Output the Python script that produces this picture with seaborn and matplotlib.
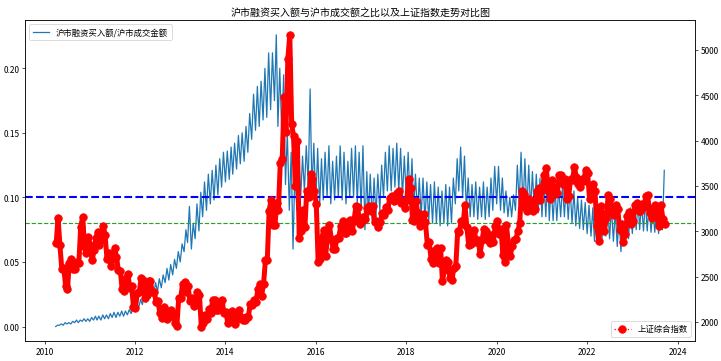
import pandas as pd
import matplotlib
matplotlib.use('Agg')
import matplotlib.pyplot as plt
import seaborn as sns

plt.rcParams['font.family'] = ['Noto Sans CJK SC', 'DejaVu Sans']
plt.rcParams['axes.unicode_minus'] = False

# monthly dates, Apr 2010 - Sep 2023
months = pd.date_range('2010-04-01', periods=162, freq='MS')

# ratio of margin buying to turnover (SSE): monthly low / high
ratio_lo = [
    0.000, 0.001, 0.001, 0.002, 0.002, 0.003, 0.003, 0.004, 0.004,
    0.004, 0.005, 0.005, 0.005, 0.006, 0.006, 0.007, 0.007, 0.008, 0.008, 0.009, 0.010,
    0.012, 0.015, 0.017, 0.019, 0.022, 0.025, 0.027, 0.030, 0.034, 0.036, 0.040, 0.045,
    0.050, 0.058, 0.065, 0.060, 0.068, 0.074, 0.085, 0.090, 0.095, 0.098, 0.102, 0.108,
    0.112, 0.114, 0.118, 0.122, 0.126, 0.128, 0.135, 0.145, 0.152, 0.155, 0.160, 0.162,
    0.168, 0.175, 0.155, 0.150, 0.110, 0.090, 0.060, 0.090, 0.100, 0.105, 0.110, 0.105,
    0.095, 0.093, 0.098, 0.100, 0.095, 0.098, 0.100, 0.098, 0.095, 0.100, 0.100, 0.095,
    0.090, 0.075, 0.085, 0.082, 0.085, 0.090, 0.100, 0.105, 0.105, 0.108, 0.105, 0.100,
    0.100, 0.095, 0.090, 0.088, 0.085, 0.082, 0.082, 0.080, 0.080, 0.078, 0.080, 0.078,
    0.080, 0.095, 0.105, 0.100, 0.090, 0.085, 0.085, 0.083, 0.085, 0.083, 0.085, 0.090,
    0.095, 0.090, 0.088, 0.085, 0.085, 0.090, 0.095, 0.092, 0.090, 0.090, 0.088, 0.088,
    0.085, 0.085, 0.082, 0.082, 0.082, 0.085, 0.085, 0.083, 0.080, 0.078, 0.076, 0.075,
    0.072, 0.070, 0.066, 0.065, 0.068, 0.070, 0.068, 0.066, 0.062, 0.058, 0.065, 0.068,
    0.072, 0.075, 0.075, 0.074, 0.074, 0.073, 0.073, 0.072, 0.075,
]
ratio_hi = [
    0.001, 0.002, 0.003, 0.003, 0.004, 0.005, 0.005, 0.006, 0.006,
    0.007, 0.008, 0.008, 0.009, 0.009, 0.010, 0.011, 0.011, 0.012, 0.012, 0.013, 0.014,
    0.017, 0.021, 0.024, 0.027, 0.030, 0.034, 0.037, 0.040, 0.045, 0.048, 0.052, 0.058,
    0.064, 0.075, 0.093, 0.080, 0.095, 0.104, 0.112, 0.118, 0.121, 0.125, 0.130, 0.135,
    0.136, 0.139, 0.142, 0.148, 0.150, 0.155, 0.165, 0.180, 0.186, 0.190, 0.200, 0.212,
    0.212, 0.226, 0.200, 0.195, 0.150, 0.135, 0.120, 0.130, 0.132, 0.140, 0.184, 0.142,
    0.138, 0.130, 0.135, 0.140, 0.128, 0.132, 0.140, 0.135, 0.128, 0.138, 0.140, 0.135,
    0.140, 0.120, 0.118, 0.115, 0.118, 0.125, 0.135, 0.140, 0.138, 0.142, 0.138, 0.132,
    0.135, 0.130, 0.118, 0.115, 0.115, 0.112, 0.110, 0.112, 0.108, 0.105, 0.110, 0.108,
    0.115, 0.130, 0.139, 0.132, 0.115, 0.110, 0.112, 0.108, 0.112, 0.108, 0.115, 0.124,
    0.124, 0.115, 0.105, 0.100, 0.102, 0.125, 0.135, 0.130, 0.125, 0.120, 0.118, 0.115,
    0.115, 0.118, 0.110, 0.108, 0.108, 0.110, 0.110, 0.108, 0.105, 0.100, 0.098, 0.096,
    0.094, 0.092, 0.088, 0.085, 0.088, 0.093, 0.092, 0.090, 0.085, 0.082, 0.090, 0.092,
    0.095, 0.098, 0.096, 0.098, 0.095, 0.092, 0.090, 0.088, 0.121,
]

# SSE composite index: monthly low / high of the daily closes
sse_lo = [
    2870, 2590, 2400, 2360, 2580, 2580, 2650, 2830, 2760,
    2680, 2790, 2850, 2910, 2700, 2620, 2700, 2570, 2360, 2340, 2380, 2170,
    2150, 2330, 2260, 2300, 2330, 2220, 2100, 2040, 2030, 2060, 1990, 1960,
    2270, 2330, 2230, 2180, 2200, 1950, 1990, 2030, 2100, 2130, 2130, 2100,
    1990, 2030, 1980, 2030, 2020, 2020, 2050, 2190, 2220, 2290, 2420, 2680,
    3070, 3070, 3240, 3800, 4100, 4190, 3500, 2930, 3000, 3050, 3380, 3450,
    2660, 2700, 2730, 2940, 2810, 2810, 2930, 2980, 2980, 3000, 3120, 3080,
    3110, 3140, 3220, 3100, 3050, 3100, 3180, 3240, 3340, 3350, 3310, 3260,
    3350, 3130, 3120, 3060, 3080, 2850, 2700, 2650, 2650, 2450, 2570, 2480,
    2460, 2620, 2990, 3080, 2850, 2860, 2880, 2750, 2900, 2900, 2870, 2880,
    2970, 2740, 2660, 2730, 2840, 2920, 3090, 3270, 3220, 3220, 3250, 3350,
    3470, 3450, 3360, 3410, 3420, 3520, 3360, 3390, 3570, 3520, 3490, 3560,
    3360, 3430, 3060, 2890, 3000, 3150, 3200, 3180, 3020, 2880, 2970, 3080,
    3120, 3230, 3220, 3270, 3200, 3150, 3160, 3060, 3080,
]
sse_hi = [
    3150, 2850, 2600, 2650, 2690, 2660, 3050, 3160, 2940,
    2850, 2930, 2990, 3060, 2960, 2760, 2820, 2720, 2560, 2480, 2530, 2400,
    2320, 2480, 2460, 2450, 2450, 2330, 2230, 2160, 2120, 2130, 2100, 2270,
    2420, 2440, 2400, 2260, 2330, 2300, 2080, 2140, 2240, 2240, 2210, 2240,
    2110, 2120, 2060, 2130, 2060, 2060, 2200, 2240, 2360, 2420, 2680, 3230,
    3350, 3310, 3750, 4480, 4900, 5170, 4050, 4000, 3240, 3450, 3630, 3580,
    3300, 2930, 3020, 3070, 2920, 2930, 3060, 3110, 3100, 3130, 3280, 3270,
    3160, 3260, 3280, 3280, 3120, 3200, 3270, 3370, 3390, 3420, 3450, 3330,
    3580, 3480, 3330, 3200, 3190, 3100, 2880, 2800, 2820, 2820, 2680, 2660,
    2600, 3000, 3110, 3290, 3050, 3000, 3010, 2910, 3030, 3000, 2960, 3060,
    3120, 3030, 3070, 2850, 2900, 3000, 3450, 3410, 3360, 3340, 3450, 3480,
    3620, 3700, 3570, 3490, 3620, 3620, 3580, 3580, 3710, 3600, 3580, 3680,
    3640, 3520, 3450, 3280, 3190, 3400, 3360, 3290, 3250, 3080, 3170, 3210,
    3290, 3310, 3300, 3390, 3400, 3260, 3290, 3290, 3140,
]

# interleave monthly low/high so the daily spread shows
ratio_dates, ratio_vals = [], []
for d, lo, hi in zip(months, ratio_lo, ratio_hi):
    ratio_dates += [d, d + pd.Timedelta(days=15)]
    ratio_vals += [lo, hi]
ratio_df = pd.DataFrame({'date': ratio_dates, 'ratio': ratio_vals})

# for the index keep the path continuous: start each month at the end nearer the last point
sse_dates, sse_vals = [], []
last = sse_lo[0]
for d, lo, hi in zip(months, sse_lo, sse_hi):
    pair = [lo, hi] if abs(lo - last) <= abs(hi - last) else [hi, lo]
    sse_dates += [d + pd.Timedelta(days=4), d + pd.Timedelta(days=19)]
    sse_vals += pair
    last = pair[1]
sse_df = pd.DataFrame({'date': sse_dates, 'sse': sse_vals})

fig, ax = plt.subplots(figsize=(12.02, 6.03), dpi=60)
sns.lineplot(data=ratio_df, x='date', y='ratio', ax=ax, color='#1f77b4',
             linewidth=1.5, label='沪市融资买入额/沪市成交金额')
ax.axhline(0.10, color='b', linestyle='--', linewidth=2.5)
ax.axhline(0.08, color='#2ca02c', linestyle='--', linewidth=1.4)
ax.legend(loc='upper left')
ax.set_xlabel('')
ax.set_ylabel('')

ax2 = ax.twinx()
# dense daily dots in the original merge into a thick band
sns.lineplot(data=sse_df, x='date', y='sse', ax=ax2, color='red',
             linewidth=6, solid_capstyle='round', solid_joinstyle='round', legend=False)
sns.lineplot(data=sse_df, x='date', y='sse', ax=ax2, color='red', marker='o',
             linestyle=':', markersize=9, markeredgecolor='red',
             markeredgewidth=1, label='上证综合指数')
ax2.legend(loc='lower right')
ax2.set_ylabel('')
ax2.set_xlabel('')

ax.set_title('沪市融资买入额与沪市成交额之比以及上证指数走势对比图', fontsize=12)
fig.subplots_adjust(left=0.035, right=0.964, top=0.942, bottom=0.055)
fig.savefig('out.png')
